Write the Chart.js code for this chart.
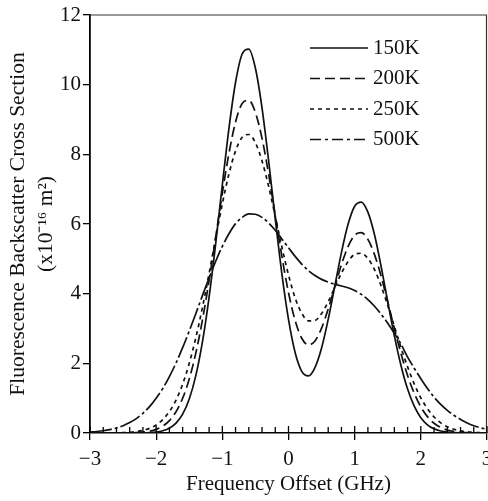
<!DOCTYPE html>
<html>
<head>
<meta charset="utf-8">
<script src="https://cdn.jsdelivr.net/npm/chart.js@4.4.1/dist/chart.umd.min.js"></script>
<style>
  html, body { margin: 0; padding: 0; background: #fff; }
  canvas { display: block; }
</style>
</head>
<body>
<canvas id="myChart" width="488" height="501"></canvas>
<script>
// frequency offset (GHz), one point every 0.1 GHz
const freq = [-3.0, -2.9, -2.8, -2.7, -2.6, -2.5, -2.4, -2.3, -2.2, -2.1,
  -2.0, -1.9, -1.8, -1.7, -1.6, -1.5, -1.4, -1.3, -1.2, -1.1,
  -1.0, -0.9, -0.8, -0.7, -0.6, -0.5, -0.4, -0.3, -0.2, -0.1,
  0.0, 0.1, 0.2, 0.3, 0.4, 0.5, 0.6, 0.7, 0.8, 0.9,
  1.0, 1.1, 1.2, 1.3, 1.4, 1.5, 1.6, 1.7, 1.8, 1.9,
  2.0, 2.1, 2.2, 2.3, 2.4, 2.5, 2.6, 2.7, 2.8, 2.9, 3.0];

// cross section (x10^-16 m^2)
const k150 = [0, 0, 0, 0, 0, 0, 0.0005, 0.0014, 0.004, 0.011,
  0.027, 0.063, 0.137, 0.282, 0.542, 0.977, 1.653, 2.621, 3.902, 5.443,
  7.125, 8.748, 10.07, 10.88, 11.02, 10.47, 9.33, 7.81, 6.14, 4.57,
  3.26, 2.31, 1.77, 1.64, 1.88, 2.44, 3.26, 4.22, 5.18, 5.99,
  6.51, 6.63, 6.34, 5.69, 4.78, 3.77, 2.79, 1.94, 1.26, 0.77,
  0.44, 0.236, 0.119, 0.056, 0.025, 0.010, 0.004, 0.0015, 0, 0, 0];
const k200 = [0, 0, 0.0001, 0.0003, 0.001, 0.002, 0.005, 0.012, 0.026, 0.053,
  0.105, 0.198, 0.356, 0.609, 0.996, 1.55, 2.30, 3.25, 4.38, 5.63,
  6.89, 8.03, 8.93, 9.46, 9.55, 9.20, 8.46, 7.43, 6.25, 5.07,
  4.03, 3.23, 2.72, 2.53, 2.64, 3.01, 3.56, 4.20, 4.83, 5.35,
  5.68, 5.75, 5.56, 5.12, 4.50, 3.76, 3.00, 2.28, 1.65, 1.14,
  0.75, 0.47, 0.28, 0.16, 0.087, 0.045, 0.022, 0.010, 0.005, 0.002, 0.001];
const k250 = [0.0002, 0.0004, 0.001, 0.002, 0.005, 0.010, 0.021, 0.040, 0.075, 0.134,
  0.232, 0.385, 0.616, 0.947, 1.40, 2.00, 2.74, 3.61, 4.58, 5.60,
  6.58, 7.44, 8.10, 8.49, 8.57, 8.33, 7.81, 7.08, 6.22, 5.34,
  4.54, 3.88, 3.44, 3.22, 3.23, 3.43, 3.77, 4.18, 4.59, 4.92,
  5.13, 5.16, 5.01, 4.69, 4.22, 3.66, 3.06, 2.45, 1.90, 1.41,
  1.01, 0.70, 0.46, 0.29, 0.18, 0.106, 0.060, 0.033, 0.017, 0.009, 0.004];
const k500 = [0.027, 0.043, 0.065, 0.098, 0.145, 0.210, 0.298, 0.414, 0.566, 0.757,
  1.00, 1.28, 1.62, 2.01, 2.45, 2.93, 3.43, 3.95, 4.45, 4.93,
  5.36, 5.72, 6.01, 6.19, 6.29, 6.28, 6.19, 6.03, 5.82, 5.57,
  5.32, 5.07, 4.85, 4.66, 4.52, 4.41, 4.33, 4.27, 4.22, 4.17,
  4.09, 3.98, 3.83, 3.64, 3.41, 3.15, 2.86, 2.55, 2.18, 1.86,
  1.56, 1.28, 1.03, 0.82, 0.65, 0.51, 0.39, 0.29, 0.21, 0.15, 0.105];

const seriesLabels = ['150K', '200K', '250K', '500K'];
const xTicks = [-3, -2, -1, 0, 1, 2, 3];
const yTicks = [0, 2, 4, 6, 8, 10, 12];

const serif = '"Liberation Serif", "Times New Roman", serif';
const ink = '#111';

const pts = arr => freq.map((f, i) => ({x: f, y: arr[i]}));
const dashes = [[], [10, 5], [4, 4], [22, 3, 3, 3]];

const datasets = [k150, k200, k250, k500].map((arr, i) => ({
  label: seriesLabels[i],
  data: pts(arr),
  borderColor: ink,
  borderWidth: 1.7,
  borderDash: dashes[i],
  pointRadius: 0,
  fill: false,
  cubicInterpolationMode: 'monotone'
}));

// box top/right + inward x ticks (major and minor)
const frame = {
  id: 'frame',
  afterDatasetsDraw(chart) {
    const {ctx, chartArea: a, scales: {x}} = chart;
    ctx.save();
    ctx.strokeStyle = '#333';
    ctx.lineWidth = 1.2;
    ctx.beginPath();
    ctx.moveTo(a.left, a.top);
    ctx.lineTo(a.right - 0.5, a.top);
    ctx.lineTo(a.right - 0.5, a.bottom);
    ctx.stroke();

    ctx.strokeStyle = '#000';
    ctx.lineWidth = 1.3;
    ctx.beginPath();
    for (let i = 0; i < xTicks.length; i++) {
      const p = x.getPixelForValue(xTicks[i]);
      ctx.moveTo(p, a.bottom);
      ctx.lineTo(p, a.bottom - 7);
      if (i < xTicks.length - 1) {
        for (let j = 1; j < 5; j++) {
          const v = xTicks[i] + (xTicks[i + 1] - xTicks[i]) * j / 5;
          const q = x.getPixelForValue(v);
          ctx.moveTo(q, a.bottom);
          ctx.lineTo(q, a.bottom - 6);
        }
      }
    }
    ctx.stroke();
    ctx.restore();
  }
};

// legend drawn inside the plot, top right
const insideLegend = {
  id: 'insideLegend',
  afterDraw(chart) {
    const {ctx, chartArea: a} = chart;
    ctx.save();
    chart.data.datasets.forEach((ds, i) => {
      const y = a.top + 33 + i * 30.5;
      const x0 = a.left + 220;
      const x1 = x0 + 58;
      // the key sample for 500K is shorter dashed than the curve
      ctx.setLineDash(i === 3 ? [11, 4, 3, 4] : (ds.borderDash || []));
      ctx.lineWidth = ds.borderWidth;
      ctx.strokeStyle = ds.borderColor;
      ctx.beginPath();
      ctx.moveTo(x0, y);
      ctx.lineTo(x1, y);
      ctx.stroke();
      ctx.setLineDash([]);
      ctx.fillStyle = ink;
      ctx.font = '21px ' + serif;
      ctx.textBaseline = 'middle';
      ctx.textAlign = 'left';
      ctx.fillText(ds.label, x1 + 5, y);
    });
    ctx.restore();
  }
};

const ctx = document.getElementById('myChart');

new Chart(ctx, {
  type: 'line',
  data: { datasets: datasets },
  options: {
    responsive: false,
    animation: false,
    devicePixelRatio: 1,
    layout: { padding: { top: 15, right: 1, left: 0, bottom: 0 } },
    plugins: {
      legend: { display: false },
      tooltip: { enabled: false }
    },
    scales: {
      x: {
        type: 'linear',
        min: -3,
        max: 3,
        afterBuildTicks: axis => { axis.ticks = xTicks.map(v => ({value: v})); },
        afterFit: s => { s.height = 68; s.paddingLeft = 0; s.paddingRight = 0; },
        ticks: {
          color: ink,
          padding: 7,
          maxRotation: 0,
          font: { family: serif, size: 21 },
          callback: v => String(v).replace('-', '\u2212')
        },
        grid: { drawOnChartArea: false, drawTicks: true, tickLength: 7, color: '#000', lineWidth: 1.3 },
        border: { color: '#000', width: 1.6 },
        title: {
          display: true,
          text: 'Frequency Offset (GHz)',
          color: ink,
          font: { family: serif, size: 21, lineHeight: 1.2 },
          padding: { top: 0, bottom: 4 }
        }
      },
      y: {
        min: 0,
        max: 12,
        afterBuildTicks: axis => { axis.ticks = yTicks.map(v => ({value: v})); },
        afterFit: s => { s.width = 90; s.paddingTop = 0; s.paddingBottom = 0; },
        ticks: {
          color: ink,
          padding: 2,
          font: { family: serif, size: 21 }
        },
        grid: { drawOnChartArea: false, drawTicks: true, tickLength: 7, color: '#000', lineWidth: 1.3 },
        border: { color: '#000', width: 1.8 },
        title: {
          display: true,
          text: ['Fluorescence Backscatter Cross Section', '(x10\u207B\u00B9\u2076 m\u00B2)'],
          color: ink,
          font: { family: serif, size: 21.5, lineHeight: 1.27 },
          padding: { top: 5, bottom: 0 }
        }
      }
    }
  },
  plugins: [frame, insideLegend]
});
</script>
</body>
</html>
